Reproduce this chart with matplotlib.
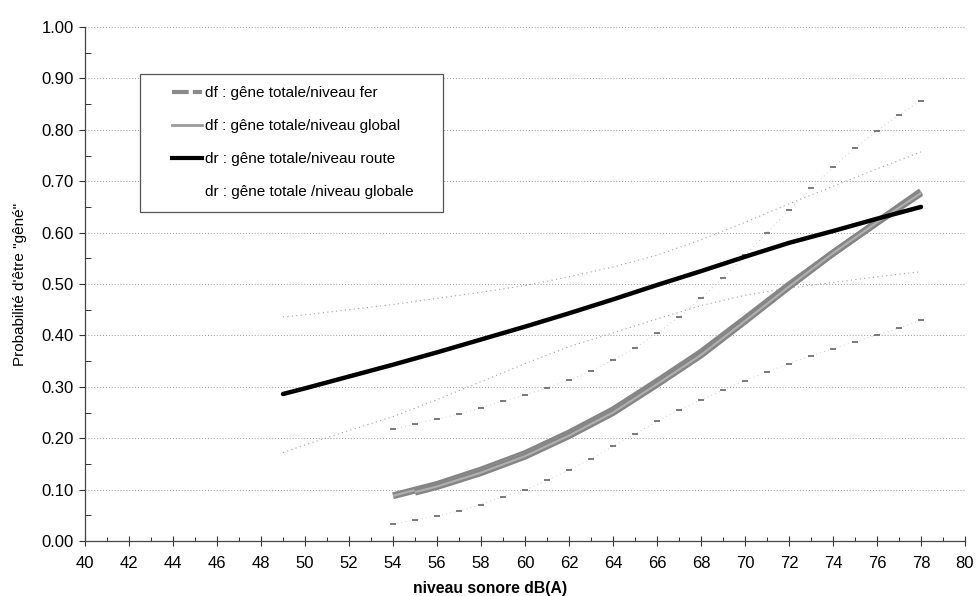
import matplotlib
matplotlib.use('Agg')
import matplotlib.pyplot as plt
from matplotlib.lines import Line2D
from matplotlib.patches import Rectangle
from matplotlib.ticker import MultipleLocator, FormatStrFormatter

plt.rcParams['font.family'] = ['Liberation Sans', 'DejaVu Sans']

# df : gêne totale / niveau fer
fer_x = [54, 56, 58, 60, 62, 64, 66, 68, 70, 72, 74, 76, 78]
fer_y = [0.088, 0.110, 0.138, 0.170, 0.210, 0.255, 0.310, 0.367, 0.432, 0.498, 0.560, 0.620, 0.680]
# df : gêne totale / niveau global
glob_x = [55, 56, 58, 60, 62, 64, 66, 68, 70, 72, 74, 76, 78]
glob_y = [0.095, 0.106, 0.133, 0.165, 0.205, 0.250, 0.305, 0.362, 0.428, 0.495, 0.560, 0.620, 0.677]
# dr : gêne totale / niveau route
route_x = [49, 50, 52, 54, 56, 58, 60, 62, 64, 66, 68, 70, 72, 74, 76, 78]
route_y = [0.286, 0.297, 0.320, 0.343, 0.367, 0.392, 0.417, 0.443, 0.470, 0.498, 0.525, 0.553, 0.580, 0.603, 0.627, 0.650]

# confidence bounds, route model (faint dotted)
dr_ci_x = [49, 50, 52, 54, 56, 58, 60, 62, 64, 66, 68, 70, 72, 74, 76, 78]
dr_up = [0.436, 0.440, 0.450, 0.460, 0.472, 0.484, 0.497, 0.514, 0.533, 0.556, 0.586, 0.620, 0.656, 0.690, 0.724, 0.757]
dr_lo = [0.172, 0.187, 0.215, 0.242, 0.275, 0.310, 0.345, 0.378, 0.405, 0.432, 0.458, 0.478, 0.492, 0.503, 0.514, 0.524]

# confidence bounds, rail model (dash markers)
df_ci_x = list(range(54, 79))
df_up = [0.217, 0.228, 0.237, 0.247, 0.259, 0.272, 0.284, 0.298, 0.313, 0.331, 0.352, 0.375, 0.404,
         0.436, 0.472, 0.512, 0.556, 0.600, 0.643, 0.686, 0.727, 0.765, 0.798, 0.829, 0.857]
df_lo = [0.033, 0.041, 0.049, 0.058, 0.071, 0.086, 0.099, 0.118, 0.138, 0.160, 0.184, 0.208, 0.233,
         0.255, 0.274, 0.294, 0.312, 0.329, 0.345, 0.360, 0.374, 0.388, 0.401, 0.414, 0.429]

labels = ['df : gêne totale/niveau fer', 'df : gêne totale/niveau global',
          'dr : gêne totale/niveau route', 'dr : gêne totale /niveau globale']

fig = plt.figure(figsize=(9.77, 5.96), dpi=100)
ax = fig.add_axes([85/977, 1-541/596, 880/977, 514/596])

# CI lines
ax.plot(dr_ci_x, dr_up, ls=(0, (1, 3)), lw=0.8, color='#a0a0a0')
ax.plot(dr_ci_x, dr_lo, ls=(0, (1, 3)), lw=0.8, color='#a0a0a0')
for yy in (df_up, df_lo):
    ax.plot(df_ci_x, yy, ls=(0, (1, 4)), lw=0.6, color='#c0c0c0')
    ax.plot(df_ci_x, yy, ls='none', marker='_', ms=4, mew=1.3, color='#707070')

# main curves
for xx, yy in ((fer_x, fer_y), (glob_x, glob_y)):
    ax.plot(xx, yy, color='#858585', lw=5, solid_capstyle='butt')
    ax.plot(xx, yy, color='#b0b0b0', lw=1.5, solid_capstyle='butt')
ax.plot(route_x, route_y, color='black', lw=3.2, solid_capstyle='round')

ax.set_xlim(40, 80)
ax.set_ylim(0, 1.0)
ax.xaxis.set_major_locator(MultipleLocator(2))
ax.xaxis.set_minor_locator(MultipleLocator(1))
ax.yaxis.set_major_locator(MultipleLocator(0.1))
ax.yaxis.set_minor_locator(MultipleLocator(0.05))
ax.yaxis.set_major_formatter(FormatStrFormatter('%.2f'))
ax.tick_params(axis='x', which='major', direction='inout', length=7, width=0.8, labelsize=12, pad=7, color='#333')
ax.tick_params(axis='x', which='minor', direction='in', length=3, width=0.7, color='#333')
ax.tick_params(axis='y', which='major', direction='out', length=4, width=0.8, labelsize=12, pad=4, color='#333')
ax.tick_params(axis='y', which='minor', direction='in', length=4, width=0.7, color='#333')
for s in ('top', 'right'):
    ax.spines[s].set_visible(False)
for s in ('left', 'bottom'):
    ax.spines[s].set_color('#444')
    ax.spines[s].set_linewidth(0.9)
ax.yaxis.grid(True, which='major', ls=(0, (1, 2)), lw=0.7, color='#999')
ax.set_axisbelow(True)

ax.set_xlabel('niveau sonore dB(A)', fontsize=11.3, fontweight='bold')
ax.xaxis.set_label_coords(0.46, -0.077)
ax.set_ylabel('Probabilité d\'être "gêné"', fontsize=11)
ax.yaxis.set_label_coords(-0.066, 0.5)

# legend box + entries
ax.add_patch(Rectangle((0.0625, 0.640), 0.3445, 0.2686, transform=ax.transAxes,
                       fill=True, facecolor='white', edgecolor='#555', lw=0.9, zorder=5))
handles = [Line2D([], [], color='#8a8a8a', lw=3, ls=(0, (4, 1))),
           Line2D([], [], color='#9a9a9a', lw=2),
           Line2D([], [], color='black', lw=3),
           Line2D([], [], color='none', lw=2)]
leg = ax.legend(handles, labels, loc='upper left', bbox_to_anchor=(0.0989, 0.885),
                frameon=False, fontsize=11, handlelength=1.96, handletextpad=0.2,
                labelspacing=1.25, borderpad=0, borderaxespad=0)
leg.set_zorder(6)

fig.savefig('out.png', dpi=100)
